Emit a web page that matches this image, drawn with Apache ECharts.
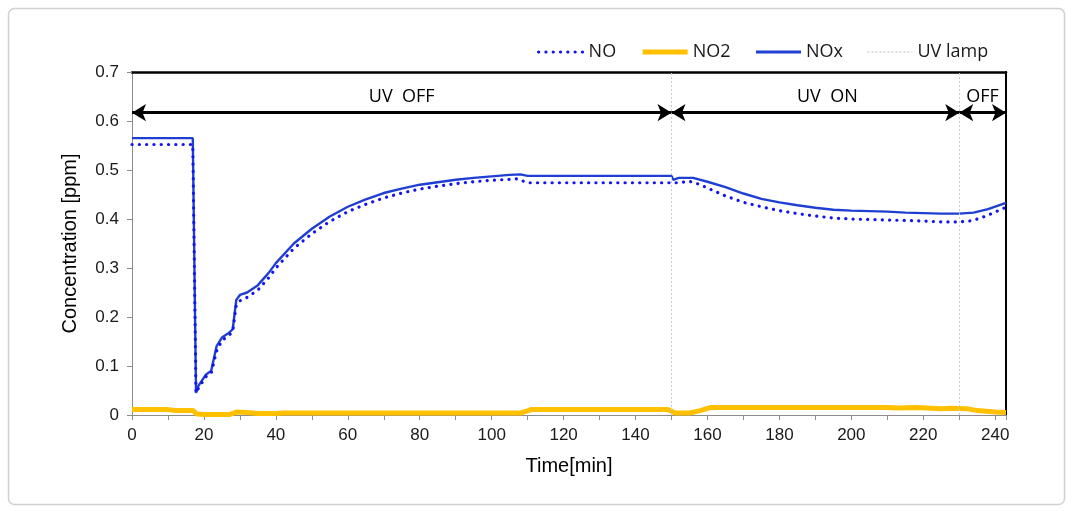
<!DOCTYPE html>
<html>
<head>
<meta charset="utf-8">
<script src="https://cdn.jsdelivr.net/npm/echarts@6/dist/echarts.min.js"></script>
<style>
html,body{margin:0;padding:0;background:#fff;}
#chart{width:1073px;height:511px;}
</style>
</head>
<body>
<div id="chart"></div>
<script>
// ---- data ----
const noxTime = [0,16.9,17.8,18.5,20.5,22,23.5,25,27,28,29,30,32,35,38,40,45,50,55,60,65,70,75,80,85,90,95,100,105,108,110,150,150.5,152,156,160,165,170,175,180,185,190,195,200,205,210,215,220,225,230,234,238,241,243];
const noxVal  = [0.565,0.565,0.045,0.06,0.082,0.09,0.14,0.158,0.168,0.175,0.235,0.245,0.25,0.265,0.29,0.31,0.35,0.38,0.405,0.425,0.44,0.453,0.462,0.47,0.475,0.48,0.484,0.487,0.49,0.491,0.488,0.488,0.48,0.484,0.484,0.476,0.465,0.452,0.441,0.434,0.428,0.423,0.419,0.417,0.416,0.415,0.413,0.412,0.411,0.411,0.413,0.42,0.428,0.433];

const noTime = [0,16.9,17.8,18.5,20.5,22,23.5,25,27,28,29,30,32,35,38,40,45,50,55,60,65,70,75,80,85,90,95,100,105,107,110,150,152,155,158,161,165,170,175,180,185,190,195,200,210,220,225,230,233,236,239,243];
const noVal  = [0.552,0.552,0.045,0.055,0.078,0.085,0.13,0.152,0.163,0.17,0.225,0.233,0.24,0.255,0.28,0.3,0.34,0.37,0.395,0.415,0.43,0.443,0.453,0.461,0.467,0.472,0.476,0.479,0.481,0.482,0.474,0.474,0.474,0.477,0.47,0.46,0.447,0.434,0.425,0.417,0.411,0.406,0.402,0.4,0.398,0.396,0.394,0.394,0.396,0.402,0.411,0.424];

const no2Time = [0,10,12,17,18,20,24,27,29,32,35,40,42,100,102,108,111,149,151,155,158,161,210,213,218,225,228,232,235,240,243];
const no2Val  = [0.011,0.011,0.009,0.009,0.002,0.001,0.001,0.001,0.006,0.005,0.003,0.003,0.004,0.004,0.004,0.004,0.011,0.011,0.004,0.004,0.009,0.0155,0.0155,0.0145,0.0155,0.013,0.014,0.013,0.009,0.006,0.005];

const uvLampTimes = [150, 230];
const phaseStarts = [0, 150, 230];
const phaseEnds   = [150, 230, 243];
const phaseLabels = ['UV  OFF', 'UV  ON', 'OFF'];
const phaseArrowLevel = 0.617;

const xMin = 0, xMax = 243, xInterval = 20;
const yMin = 0, yMax = 0.7, yInterval = 0.1;
// ----------------

const zip = (t, v) => t.map((x, i) => [x, v[i]]);

const axisFont = 'Liberation Sans, Arial, sans-serif';
const textFont = 'Open Sans, Liberation Sans, sans-serif';

const styles = {
  NO:   { color: '#1414f0', width: 3.2, type: [0.1, 7.2], cap: 'round' },
  NO2:  { color: '#ffc000', width: 5, type: 'solid' },
  NOx:  { color: '#1f3fd2', width: 2.4, type: 'solid' },
  UV:   { color: '#bdbdbd', width: 1, type: [2, 2] }
};

const arrowData = phaseStarts.map((s, i) => [
  { coord: [s, phaseArrowLevel], label: { offset: i === 1 ? [12, 0] : [0, 0] } },
  { coord: [phaseEnds[i], phaseArrowLevel], name: phaseLabels[i] }
]);

const chart = echarts.init(document.getElementById('chart'));
chart.setOption({
  animation: false,
  backgroundColor: '#fff',
  graphic: [{
    type: 'rect',
    shape: { x: 8.5, y: 8.5, width: 1056, height: 496, r: 6 },
    style: { fill: 'none', stroke: '#d0d0d0', lineWidth: 1.5 },
    z: -1
  }],
  grid: { left: 132, right: 67, top: 72, bottom: 96 },
  legend: {
    top: 38, left: 532,
    itemWidth: 45, itemHeight: 10, itemGap: 24,
    itemStyle: { opacity: 0 },
    textStyle: { fontFamily: textFont, fontSize: 18, color: '#1a1a1a' },
    data: [
      { name: 'NO', lineStyle: Object.assign({}, styles.NO) },
      { name: 'NO2', lineStyle: Object.assign({}, styles.NO2) },
      { name: 'NOx', lineStyle: Object.assign({}, styles.NOx, { width: 3 }) },
      { name: 'UV lamp', lineStyle: Object.assign({}, styles.UV) }
    ]
  },
  xAxis: [{
    type: 'value', min: xMin, max: xMax, interval: xInterval,
    name: 'Time[min]', nameLocation: 'middle', nameGap: 41,
    nameTextStyle: { fontFamily: axisFont, fontSize: 20, color: '#000' },
    axisLine: { show: true, lineStyle: { color: '#8c8c8c', width: 1 } },
    axisTick: { show: true, length: 5, lineStyle: { color: '#8c8c8c' } },
    minorTick: { show: true, splitNumber: 2, length: 5, lineStyle: { color: '#8c8c8c' } },
    axisLabel: { fontFamily: axisFont, fontSize: 17, color: '#1a1a1a', margin: 12, showMaxLabel: false },
    splitLine: { show: false }
  }, {
    type: 'value', min: xMin, max: xMax, position: 'top',
    axisLine: { show: true, onZero: false, lineStyle: { color: '#000', width: 2.5 } },
    axisTick: { show: false }, axisLabel: { show: false }, splitLine: { show: false }
  }],
  yAxis: [{
    type: 'value', min: yMin, max: yMax, interval: yInterval,
    name: 'Concentration [ppm]', nameLocation: 'middle', nameGap: 52,
    nameTextStyle: { fontFamily: axisFont, fontSize: 20, color: '#000' },
    axisLine: { show: true, lineStyle: { color: '#8c8c8c', width: 1 } },
    axisTick: { show: true, length: 5, lineStyle: { color: '#8c8c8c' } },
    axisLabel: { fontFamily: axisFont, fontSize: 17, color: '#1a1a1a', margin: 13 },
    splitLine: { show: false }
  }, {
    type: 'value', min: yMin, max: yMax, position: 'right',
    axisLine: { show: true, onZero: false, lineStyle: { color: '#000', width: 2 } },
    axisTick: { show: false }, axisLabel: { show: false }, splitLine: { show: false }
  }],
  series: [
    {
      name: 'NO', type: 'line', data: zip(noTime, noVal), symbol: 'none',
      color: styles.NO.color, lineStyle: styles.NO, z: 4
    },
    {
      name: 'NO2', type: 'line', data: zip(no2Time, no2Val), symbol: 'none',
      color: styles.NO2.color, lineStyle: styles.NO2, z: 2
    },
    {
      name: 'NOx', type: 'line', data: zip(noxTime, noxVal), symbol: 'none',
      color: styles.NOx.color, lineStyle: styles.NOx, z: 3,
      markLine: {
        silent: true,
        symbol: ['arrow', 'arrow'], symbolSize: [13, 14],
        lineStyle: { color: '#000', width: 3, type: 'solid' },
        label: {
          show: true, position: 'middle', distance: 7,
          formatter: p => p.name,
          fontFamily: textFont, fontSize: 18, color: '#000'
        },
        data: arrowData
      }
    },
    {
      name: 'UV lamp', type: 'line', data: [], symbol: 'none',
      color: styles.UV.color, lineStyle: styles.UV,
      markLine: {
        silent: true, symbol: 'none',
        lineStyle: { color: '#c8c8c8', width: 1, type: [2, 2] },
        label: { show: false },
        data: uvLampTimes.map(t => ({ xAxis: t }))
      }
    }
  ]
});
</script>
</body>
</html>
